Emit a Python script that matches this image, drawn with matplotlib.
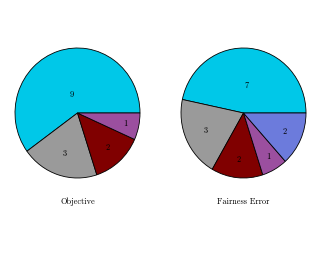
import numpy as np
import matplotlib
matplotlib.use("Agg")
from matplotlib import pyplot as plt

# slice values, counterclockwise from 3 o'clock
obj_values = [9, 3, 2, 1]
obj_colors = ['#00c8e8', '#9a9a9a', '#800000', '#9b4f9f']

fair_values = [7, 3, 2, 1, 2]
fair_colors = ['#00c8e8', '#9a9a9a', '#800000', '#9b4f9f', '#6c7bdc']

titles = ['Objective', 'Fairness Error']

plt.rcParams['font.family'] = ['cmr10', 'DejaVu Serif']


def draw_pie(ax, values, colors, title):
    wedges, _ = ax.pie(values, colors=colors, startangle=0, counterclock=True,
                       wedgeprops=dict(edgecolor='black', linewidth=0.6))
    total = float(sum(values))
    start = 0.0
    for v in values:
        half = np.pi * v / total
        mid = start + half
        # wider slices get their label nearer the middle
        r = 0.84 - 0.29 * half
        ax.text(r * np.cos(mid), r * np.sin(mid), str(v), ha='center',
                va='center', fontsize=6)
        start += 2 * half
    ax.set_aspect('auto')
    ax.set_xlim(-1.0, 1.0)
    ax.set_ylim(-1.0, 1.0)
    ax.text(0.5, -0.18, title, transform=ax.transAxes, ha='center',
            va='center', fontsize=6)


fig = plt.figure(figsize=(3.2, 2.56), dpi=100)
ax1 = fig.add_axes([15 / 320, 78 / 256, 125 / 320, 130 / 256])
ax2 = fig.add_axes([181 / 320, 78 / 256, 125 / 320, 130 / 256])
draw_pie(ax1, obj_values, obj_colors, titles[0])
draw_pie(ax2, fair_values, fair_colors, titles[1])
fig.savefig('out.png', dpi=100)
